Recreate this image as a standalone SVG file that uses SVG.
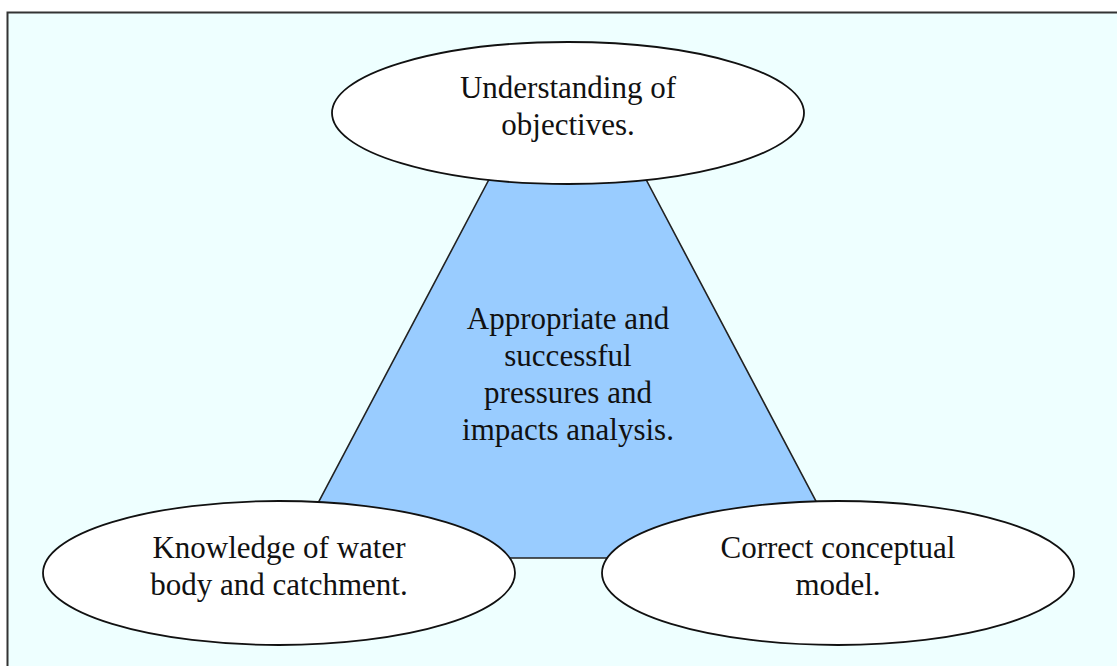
<svg xmlns="http://www.w3.org/2000/svg" width="1117" height="666" viewBox="0 0 1117 666">
  <style>
    .frame { fill: #EEFFFF; stroke: #333333; stroke-width: 2; }
    .ell { fill: #FFFFFF; stroke: #111111; stroke-width: 1.8; }
    .trap { fill: #99CCFF; stroke: #222222; stroke-width: 1.6; }
    .lbl { font-family: "Liberation Serif", "Times New Roman", serif; font-size: 31px; fill: #111111; text-anchor: middle; }
  </style>
  <rect x="0" y="0" width="1117" height="666" fill="#FFFFFF"/>
  <rect class="frame" x="7.5" y="12.5" width="1200" height="700"/>
  <g id="center">
    <polygon class="trap" points="494,170 641,170 846,558 289,558"/>
    <text class="lbl" x="568" y="329">Appropriate and</text>
    <text class="lbl" x="568" y="366">successful</text>
    <text class="lbl" x="568" y="403">pressures and</text>
    <text class="lbl" x="568" y="440">impacts analysis.</text>
  </g>
  <g id="connectors"></g>
  <g id="objectives">
    <ellipse class="ell" cx="568" cy="113" rx="236" ry="71"/>
    <text class="lbl" x="568" y="98">Understanding of</text>
    <text class="lbl" x="568" y="135">objectives.</text>
  </g>
  <g id="knowledge">
    <ellipse class="ell" cx="279" cy="573" rx="236" ry="72"/>
    <text class="lbl" x="279" y="558">Knowledge of water</text>
    <text class="lbl" x="279" y="595">body and catchment.</text>
  </g>
  <g id="model">
    <ellipse class="ell" cx="838" cy="573" rx="236" ry="72"/>
    <text class="lbl" x="838" y="558">Correct conceptual</text>
    <text class="lbl" x="838" y="595">model.</text>
  </g>
</svg>
